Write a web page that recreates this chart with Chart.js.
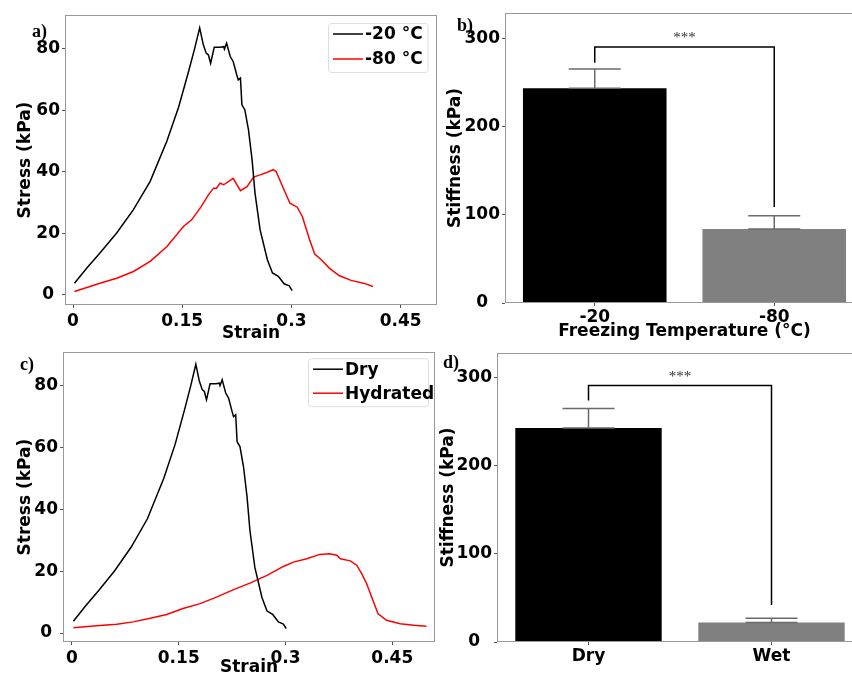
<!DOCTYPE html>
<html>
<head>
<meta charset="utf-8">
<script src="https://cdn.jsdelivr.net/npm/chart.js@4.4.1/dist/chart.umd.min.js"></script>
<style>
  html, body { margin: 0; padding: 0; overflow: hidden; background: #fff; }
  body { position: relative; width: 852px; height: 675px; }
  canvas { position: absolute; }
  .lbl { position: absolute; font: bold 18px "Liberation Serif", serif; line-height: 18px; color: #000; }
</style>
</head>
<body>
<canvas id="chartA" width="430" height="340" style="left:15px;top:0px"></canvas>
<canvas id="chartB" width="425" height="340" style="left:445px;top:0px"></canvas>
<canvas id="chartC" width="430" height="335" style="left:15px;top:340px"></canvas>
<canvas id="chartD" width="432" height="335" style="left:438px;top:340px"></canvas>
<div class="lbl" style="left:32px;top:22px">a)</div>
<div class="lbl" style="left:457px;top:16px">b)</div>
<div class="lbl" style="left:20px;top:355px">c)</div>
<div class="lbl" style="left:443px;top:353px">d)</div>
<script>
// stress-strain data, dry sample frozen at -20 C
const strainDry = [0.002, 0.019, 0.037, 0.060, 0.083, 0.106, 0.129, 0.145, 0.158, 0.167, 0.174, 0.179, 0.183, 0.186, 0.189, 0.194, 0.202, 0.207, 0.208, 0.211, 0.216, 0.220, 0.225, 0.227, 0.230, 0.232, 0.236, 0.241, 0.246, 0.250, 0.257, 0.267, 0.274, 0.282, 0.290, 0.297, 0.301];
const stressDry = [3.8, 8.7, 13.6, 20.1, 27.7, 36.9, 50.0, 61.0, 72.0, 80.0, 86.8, 81.3, 78.6, 78.0, 75.3, 80.5, 80.5, 80.7, 79.9, 81.8, 77.5, 75.9, 71.5, 69.9, 70.5, 61.8, 60.2, 53.7, 43.9, 33.1, 21.1, 11.4, 7.1, 6.0, 3.6, 2.9, 1.4];

// frozen at -80 C
const strain80 = [0.002, 0.037, 0.060, 0.083, 0.106, 0.129, 0.152, 0.163, 0.176, 0.186, 0.193, 0.197, 0.202, 0.207, 0.220, 0.230, 0.239, 0.248, 0.257, 0.264, 0.275, 0.279, 0.290, 0.298, 0.308, 0.315, 0.325, 0.332, 0.341, 0.352, 0.366, 0.382, 0.399, 0.412];
const stress80 = [1.1, 3.8, 5.4, 7.6, 10.9, 15.7, 22.3, 24.4, 28.7, 32.5, 34.7, 34.7, 36.3, 35.8, 37.9, 33.9, 35.2, 38.3, 39.0, 39.6, 40.7, 40.1, 34.1, 29.8, 28.5, 25.5, 17.9, 13.3, 11.4, 8.7, 6.2, 4.7, 3.8, 2.7];

// hydrated sample
const strainHyd = [0.002, 0.039, 0.063, 0.086, 0.110, 0.133, 0.156, 0.180, 0.203, 0.227, 0.250, 0.274, 0.297, 0.311, 0.330, 0.348, 0.362, 0.372, 0.377, 0.391, 0.400, 0.407, 0.414, 0.421, 0.430, 0.442, 0.461, 0.480, 0.498];
const stressHyd = [1.7, 2.4, 2.8, 3.6, 4.8, 6.0, 7.9, 9.5, 11.6, 14.0, 16.1, 18.6, 21.5, 22.9, 24.0, 25.4, 25.6, 25.1, 24.0, 23.3, 21.9, 19.2, 15.9, 11.6, 6.2, 4.1, 3.0, 2.5, 2.2];

const strainTicks = [0, 0.15, 0.3, 0.45];
const stressTicks = [0, 20, 40, 60, 80];
const stiffTicks = [0, 100, 200, 300];

// stiffness bars
const tempCats = ['-20', '-80'];
const tempStiff = [244, 84];
const tempErr = [22, 15];
const tempLegs = [273, 109];   // bracket leg ends
const tempBracket = 291;

const hydCats = ['Dry', 'Wet'];
const hydStiff = [243, 22];
const hydErr = [22, 5];
const hydLegs = [274, 42];
const hydBracket = 291;

const pts = (xs, ys) => xs.map((x, i) => ({x: x, y: ys[i]}));
const tickFont = {family: 'DejaVu Sans', size: 17, weight: 'bold'};
const titleFont = {family: 'DejaVu Sans', size: 17, weight: 'bold'};
const tickGrid = {display: true, drawOnChartArea: false, drawTicks: true, tickLength: 3, color: '#555'};

// grey box round the plot area
const frame = {
  id: 'frame',
  afterDraw(chart) {
    const {ctx, chartArea: a} = chart;
    ctx.save();
    ctx.strokeStyle = '#999';
    ctx.lineWidth = 1;
    ctx.strokeRect(Math.round(a.left) + 0.5, Math.round(a.top) + 0.5,
      Math.round(a.right - a.left) - 1, Math.round(a.bottom - a.top) - 1);
    ctx.restore();
  }
};

const legendBox = {
  id: 'legendBox',
  afterDatasetsDraw(chart, args, o) {
    if (!o.show) return;
    const {ctx, chartArea} = chart;
    const sets = chart.data.datasets;
    ctx.save();
    ctx.font = 'bold 17px "DejaVu Sans"';
    const tw = Math.max(...sets.map(d => ctx.measureText(d.label).width));
    const w = Math.min(5 + 30 + 2 + tw + 5, o.maxW);
    const h = 10 + o.row * (sets.length - 1) + 14;
    const x = chartArea.left + o.dx, y = chartArea.top + o.dy;
    ctx.fillStyle = 'rgba(255,255,255,0.85)';
    ctx.strokeStyle = '#ddd';
    ctx.lineWidth = 1;
    ctx.beginPath();
    ctx.roundRect(x + 0.5, y + 0.5, w, h, 3);
    ctx.fill();
    ctx.stroke();
    sets.forEach((d, i) => {
      const cy = y + 11 + i * o.row;
      ctx.strokeStyle = d.borderColor;
      ctx.lineWidth = 1.5;
      ctx.beginPath();
      ctx.moveTo(x + 5, cy);
      ctx.lineTo(x + 35, cy);
      ctx.stroke();
      ctx.fillStyle = '#000';
      ctx.textBaseline = 'middle';
      ctx.fillText(d.label, x + 37, cy + 1);
    });
    ctx.restore();
  }
};

// error bars + significance bracket
const sig = {
  id: 'sig',
  afterDatasetsDraw(chart, args, o) {
    if (!o.errors) return;
    const {ctx} = chart;
    const ys = chart.scales.y;
    const meta = chart.getDatasetMeta(0);
    const vals = chart.data.datasets[0].data;
    const seg = (x1, y1, x2, y2) => { ctx.beginPath(); ctx.moveTo(x1, y1); ctx.lineTo(x2, y2); ctx.stroke(); };
    ctx.save();
    ctx.strokeStyle = '#6a6a6a';
    ctx.lineWidth = 1.5;
    meta.data.forEach((bar, i) => {
      const base = ys.getPixelForValue(vals[i]);
      const top = ys.getPixelForValue(vals[i] + o.errors[i]);
      seg(bar.x, base, bar.x, top);
      seg(bar.x - 26, top, bar.x + 26, top);
      seg(bar.x - 26, base, bar.x + 26, base);
    });
    const x0 = meta.data[0].x, x1 = meta.data[1].x;
    const yt = ys.getPixelForValue(o.top);
    ctx.strokeStyle = '#000';
    ctx.beginPath();
    ctx.moveTo(x0, ys.getPixelForValue(o.legs[0]));
    ctx.lineTo(x0, yt);
    ctx.lineTo(x1, yt);
    ctx.lineTo(x1, ys.getPixelForValue(o.legs[1]));
    ctx.stroke();
    ctx.fillStyle = '#333';
    ctx.font = '15px "Liberation Serif", serif';
    ctx.textAlign = 'center';
    ctx.textBaseline = 'alphabetic';
    ctx.fillText('***', (x0 + x1) / 2, yt - 5);
    ctx.restore();
  }
};

function lineChart(id, sets, pad, yW, xH, xr, yr, titleDrop, leg) {
  return new Chart(document.getElementById(id), {
    type: 'line',
    data: {datasets: sets.map(s => ({
      label: s[0], data: pts(s[1], s[2]), borderColor: s[3],
      borderWidth: 1.5, pointRadius: 0, tension: 0, fill: false
    }))},
    options: {
      responsive: false, animation: false, devicePixelRatio: 1,
      layout: {padding: pad},
      plugins: {legend: {display: false}, tooltip: {enabled: false}, legendBox: leg},
      scales: {
        x: {
          type: 'linear', min: xr[0], max: xr[1],
          afterBuildTicks: s => { s.ticks = strainTicks.map(v => ({value: v})); },
          afterFit: s => { s.height = xH; },
          ticks: {font: tickFont, color: '#000', padding: 3, maxRotation: 0, callback: v => String(v)},
          grid: tickGrid, border: {display: false},
          title: {display: true, text: 'Strain', font: titleFont, color: '#000', padding: {top: 0, bottom: -titleDrop}}
        },
        y: {
          min: yr[0], max: yr[1],
          afterBuildTicks: s => { s.ticks = stressTicks.map(v => ({value: v})); },
          afterFit: s => { s.width = yW; },
          ticks: {font: tickFont, color: '#000', padding: 2, crossAlign: 'center'},
          grid: tickGrid, border: {display: false},
          title: {display: true, text: 'Stress (kPa)', font: titleFont, color: '#000', padding: 0}
        }
      }
    },
    plugins: [frame, legendBox]
  });
}

function barChart(id, cats, vals, err, legs, top, pad, yW, xH, yMax, xTitle) {
  return new Chart(document.getElementById(id), {
    type: 'bar',
    data: {labels: cats, datasets: [{
      data: vals, backgroundColor: ['#000000', '#808080'],
      barPercentage: 0.8, categoryPercentage: 1.0
    }]},
    options: {
      responsive: false, animation: false, devicePixelRatio: 1,
      layout: {padding: pad},
      plugins: {legend: {display: false}, tooltip: {enabled: false},
        sig: {errors: err, legs: legs, top: top}},
      scales: {
        x: {
          afterFit: s => { s.height = xH; },
          ticks: {font: tickFont, color: '#000', padding: 1},
          grid: Object.assign({}, tickGrid, {offset: false}), border: {display: false},
          title: {display: !!xTitle, text: xTitle || '', font: titleFont, color: '#000', padding: {top: 0, bottom: -2}}
        },
        y: {
          min: 0, max: yMax,
          afterBuildTicks: s => { s.ticks = stiffTicks.map(v => ({value: v})); },
          afterFit: s => { s.width = yW; },
          ticks: {font: tickFont, color: '#000', padding: 2, crossAlign: 'center'},
          grid: tickGrid, border: {display: false},
          title: {display: true, text: 'Stiffness (kPa)', font: titleFont, color: '#000', padding: 0}
        }
      }
    },
    plugins: [sig, frame]
  });
}

lineChart('chartA', [
  ['-20 °C', strainDry, stressDry, '#000000'],
  ['-80 °C', strain80, stress80, '#ff0000']
], {left: 0, right: 8, top: 15, bottom: 0}, 50, 35, [-0.011, 0.5], [-3.3, 91], 4,
  {show: true, dx: 263, dy: 8, row: 25, maxW: 104});

lineChart('chartC', [
  ['Dry', strainDry, stressDry, '#000000'],
  ['Hydrated', strainHyd, stressHyd, '#ff0000']
], {left: 0, right: 10, top: 12, bottom: 0}, 48, 33, [-0.0126, 0.51], [-2.9, 90.7], 3,
  {show: true, dx: 245, dy: 6, row: 24, maxW: 120});

barChart('chartB', tempCats, tempStiff, tempErr, tempLegs, tempBracket,
  {left: 0, right: 6, top: 13, bottom: 0}, 60, 37, 329.5, 'Freezing Temperature (°C)');

barChart('chartD', hydCats, hydStiff, hydErr, hydLegs, hydBracket,
  {left: 0, right: 7, top: 13, bottom: 0}, 59, 33, 328, null);
</script>
</body>
</html>
